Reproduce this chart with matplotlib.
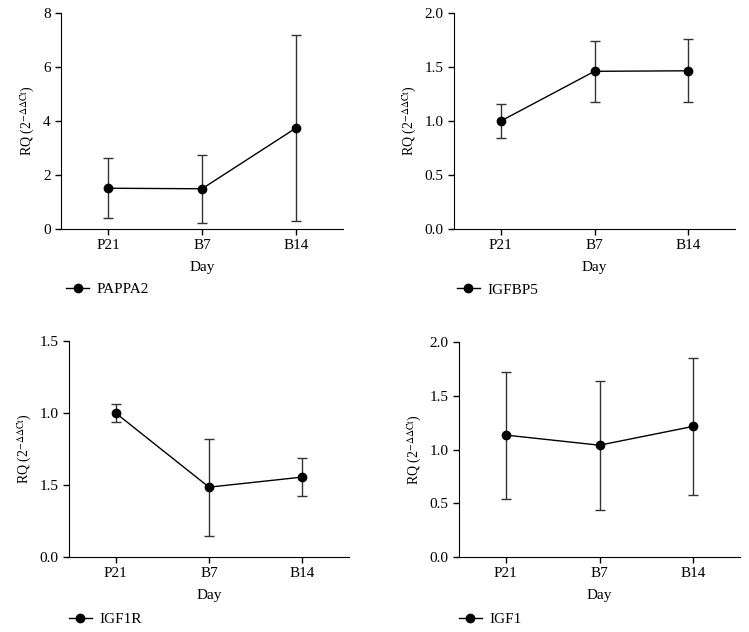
import matplotlib.pyplot as plt

plt.rcParams['font.family'] = ['Liberation Serif', 'DejaVu Serif']
plt.rcParams['mathtext.fontset'] = 'stix'

days = ['P21', 'B7', 'B14']

genes = ['PAPPA2', 'IGFBP5', 'IGF1R', 'IGF1']
pappa2 = [1.51, 1.49, 3.74]
pappa2_err = [1.11, 1.25, 3.45]
igfbp5 = [1.00, 1.46, 1.465]
igfbp5_err = [0.16, 0.28, 0.29]
igf1r = [1.00, 0.485, 0.555]
igf1r_err = [0.062, 0.337, 0.132]
igf1 = [1.134, 1.04, 1.215]
igf1_err = [0.59, 0.60, 0.64]

ylims = [8, 2.0, 1.5, 2.0]
yticks = [[0, 2, 4, 6, 8],
          [0.0, 0.5, 1.0, 1.5, 2.0],
          [0.0, 0.5, 1.0, 1.5],
          [0.0, 0.5, 1.0, 1.5, 2.0]]
ytick_labels = [['0', '2', '4', '6', '8'],
                ['0.0', '0.5', '1.0', '1.5', '2.0'],
                ['0.0', '1.5', '1.0', '1.5'],
                ['0.0', '0.5', '1.0', '1.5', '2.0']]

values = [pappa2, igfbp5, igf1r, igf1]
errors = [pappa2_err, igfbp5_err, igf1r_err, igf1_err]

W, H = 749, 632
fig = plt.figure(figsize=(W / 100, H / 100), dpi=100)

# axes boxes in pixels: left, right, top, bottom
boxes = [(61, 343, 13, 229), (454, 735, 13, 229),
         (69, 349, 341, 557), (459, 740, 342, 557)]
leg_pos = [(0.018, -0.278), (0.01, -0.282), (0.0, -0.29), (0.0, -0.29)]

x = list(range(len(days)))
for i in range(4):
    l, r, t, b = boxes[i]
    ax = fig.add_axes([l / W, 1 - b / H, (r - l) / W, (b - t) / H])
    ax.errorbar(x, values[i], yerr=errors[i], fmt='none', ecolor='#333333',
                elinewidth=1, capsize=3.5, capthick=1)
    ax.plot(x, values[i], color='black', lw=1, marker='o', markersize=6,
            label=genes[i])
    ax.set_xlim(-0.5, 2.5)
    ax.set_ylim(0, ylims[i])
    ax.set_xticks(x)
    ax.set_xticklabels(days)
    ax.set_yticks(yticks[i])
    ax.set_yticklabels(ytick_labels[i])
    ax.spines['top'].set_visible(False)
    ax.spines['right'].set_visible(False)
    ax.tick_params(labelsize=11, length=4, width=1)
    ax.set_xlabel('Day', fontsize=11, labelpad=6)
    ax.set_ylabel(r'RQ (2$^{\mathrm{-\Delta\Delta Ct}}$)', fontsize=10)
    ax.legend(loc='center left', bbox_to_anchor=leg_pos[i], frameon=False,
              borderpad=0, borderaxespad=0, handlelength=1.5,
              handletextpad=0.5, fontsize=11)

fig.savefig('out.png', dpi=100)
